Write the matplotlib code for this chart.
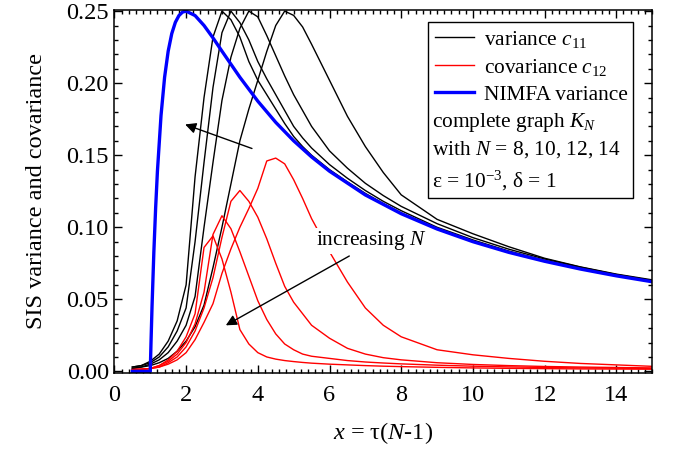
import numpy as np
import matplotlib
matplotlib.use('Agg')
import matplotlib.pyplot as plt
from matplotlib.lines import Line2D
from matplotlib.patches import Rectangle
from matplotlib.ticker import MultipleLocator, FormatStrFormatter

plt.rcParams['font.family'] = ['Liberation Serif', 'DejaVu Serif']
plt.rcParams['mathtext.fontset'] = 'custom'
plt.rcParams['mathtext.rm'] = 'Liberation Serif'
plt.rcParams['mathtext.it'] = 'Liberation Serif:italic'

# x = tau (N-1) grid shared by the SIS curves
x = [0.5, 0.75, 1.0, 1.25, 1.5, 1.75, 2.0, 2.25, 2.5, 2.75, 3.0, 3.25, 3.5, 3.75,
     4.0, 4.25, 4.5, 4.75, 5.0, 5.25, 5.5, 6.0, 6.5, 7.0, 7.5, 8.0, 9.0, 10.0,
     11.0, 12.0, 13.0, 14.0, 15.0]

N_values = [8, 10, 12, 14]

# variance c11 for N = 8, 10, 12, 14
c11_N8 = [0.002, 0.003, 0.004, 0.006, 0.009, 0.014, 0.021, 0.031, 0.046, 0.072, 0.100,
          0.130, 0.160, 0.182, 0.202, 0.222, 0.240, 0.250, 0.247, 0.239, 0.227, 0.202,
          0.177, 0.156, 0.138, 0.1225, 0.1055, 0.0955, 0.0865, 0.0785, 0.0725, 0.0675, 0.0635]
c11_N10 = [0.002, 0.003, 0.005, 0.008, 0.013, 0.021, 0.032, 0.052, 0.100, 0.145, 0.188,
           0.218, 0.238, 0.250, 0.246, 0.233, 0.219, 0.205, 0.192, 0.181, 0.170, 0.153,
           0.141, 0.1305, 0.122, 0.1145, 0.1025, 0.0928, 0.0848, 0.078, 0.0723, 0.0672, 0.063]
c11_N12 = [0.003, 0.004, 0.006, 0.010, 0.017, 0.028, 0.044, 0.090, 0.145, 0.197, 0.235,
           0.250, 0.242, 0.230, 0.215, 0.203, 0.192, 0.181, 0.170, 0.162, 0.155, 0.1435,
           0.134, 0.1255, 0.118, 0.1115, 0.100, 0.0912, 0.0835, 0.077, 0.0716, 0.0667, 0.0626]
c11_N14 = [0.003, 0.004, 0.007, 0.012, 0.021, 0.035, 0.060, 0.135, 0.190, 0.232, 0.250,
           0.244, 0.232, 0.215, 0.202, 0.192, 0.182, 0.172, 0.163, 0.156, 0.150, 0.140,
           0.1315, 0.1235, 0.1165, 0.110, 0.099, 0.0905, 0.083, 0.0767, 0.0713, 0.0665, 0.0624]

# covariance c12 for N = 8, 10, 12, 14
c12_N8 = [0.0012, 0.0014, 0.002, 0.003, 0.005, 0.008, 0.013, 0.022, 0.034, 0.047, 0.068,
          0.085, 0.100, 0.113, 0.127, 0.146, 0.148, 0.144, 0.133, 0.120, 0.106, 0.083,
          0.062, 0.044, 0.032, 0.024, 0.015, 0.0115, 0.009, 0.007, 0.0055, 0.0045, 0.0035]
c12_N10 = [0.0012, 0.0014, 0.002, 0.003, 0.006, 0.010, 0.017, 0.028, 0.044, 0.065, 0.093,
           0.118, 0.1255, 0.118, 0.107, 0.092, 0.075, 0.059, 0.048, 0.040, 0.032, 0.023,
           0.016, 0.012, 0.0095, 0.008, 0.006, 0.0048, 0.004, 0.0034, 0.003, 0.0027, 0.0024]
c12_N12 = [0.0012, 0.0015, 0.002, 0.004, 0.007, 0.012, 0.020, 0.033, 0.055, 0.095, 0.108,
           0.099, 0.083, 0.066, 0.049, 0.036, 0.026, 0.019, 0.015, 0.012, 0.0105, 0.009,
           0.0075, 0.0065, 0.0058, 0.0052, 0.0043, 0.0036, 0.0031, 0.0027, 0.0024, 0.0022, 0.002]
c12_N14 = [0.0012, 0.0015, 0.002, 0.004, 0.008, 0.014, 0.024, 0.040, 0.086, 0.094, 0.078,
           0.055, 0.029, 0.019, 0.013, 0.010, 0.0085, 0.0075, 0.0068, 0.0062, 0.0057, 0.005,
           0.0045, 0.004, 0.0036, 0.0033, 0.0028, 0.0024, 0.0021, 0.0019, 0.0017, 0.0016, 0.0015]

# NIMFA variance
x_nimfa = [0.5, 1.0, 1.02, 1.05, 1.1, 1.15, 1.2, 1.3, 1.4, 1.5, 1.6, 1.7, 1.8, 1.9, 2.0,
           2.25, 2.5, 2.75, 3.0, 3.5, 4.0, 4.5, 5.0, 5.5, 6.0, 7.0, 8.0, 9.0, 10.0,
           11.0, 12.0, 13.0, 14.0, 15.0]
var_nimfa = [0.0, 0.0, 0.0192, 0.0454, 0.0826, 0.1134, 0.1389, 0.1775, 0.2041, 0.2222,
             0.2344, 0.2422, 0.2469, 0.2493, 0.25, 0.2469, 0.24, 0.2314, 0.2222, 0.2041,
             0.1875, 0.1728, 0.16, 0.1488, 0.1389, 0.1224, 0.1094, 0.0988, 0.09, 0.0826,
             0.0764, 0.0710, 0.0663, 0.0622]

c11_all = [c11_N8, c11_N10, c11_N12, c11_N14]
c12_all = [c12_N8, c12_N10, c12_N12, c12_N14]

FS = 17.5   # axis text
LFS = 15.4  # legend / annotation text

fig = plt.figure(figsize=(6.73, 4.51), dpi=100)
ax = fig.add_axes([0.170, 0.174, 0.799, 0.803])

for c in c11_all:
	ax.plot(x, c, color='k', lw=1.0)
for c in c12_all:
	ax.plot(x, c, color='#ff0000', lw=1.0)
ax.plot(x_nimfa, var_nimfa, color='#0000ff', lw=2.4)

ax.set_xlim(0, 15)
ax.set_ylim(-0.0008, 0.2505)
ax.xaxis.set_major_locator(MultipleLocator(2))
ax.xaxis.set_minor_locator(MultipleLocator(0.2))
ax.yaxis.set_major_locator(MultipleLocator(0.05))
ax.yaxis.set_minor_locator(MultipleLocator(0.01))
ax.yaxis.set_major_formatter(FormatStrFormatter('%.2f'))
ax.tick_params(which='both', direction='in', top=True, right=True, labelsize=FS, width=1.0)
ax.tick_params(which='major', length=6)
ax.tick_params(which='minor', length=3)
ax.tick_params(axis='x', pad=9)
ax.tick_params(axis='y', pad=4)
for s in ax.spines.values():
	s.set_linewidth(1.1)

ax.set_xlabel('$x$ = τ($N$-1)', fontsize=FS, labelpad=10)
ax.set_ylabel('SIS variance and covariance', fontsize=FS, labelpad=14)

# arrows showing direction of increasing N
ax.annotate('', xy=(1.90, 0.172), xytext=(3.91, 0.154),
            arrowprops=dict(arrowstyle='-|>', color='k', lw=1.0, mutation_scale=16))
ax.annotate('', xy=(3.04, 0.031), xytext=(6.62, 0.081),
            arrowprops=dict(arrowstyle='-|>', color='k', lw=1.0, mutation_scale=16))
ax.text(7.15, 0.0905, 'increasing $N$', fontsize=LFS, ha='center', va='center',
        bbox=dict(facecolor='white', edgecolor='none', pad=1.0), zorder=5)

# legend box
handles = [Line2D([], [], color='k', lw=1.0),
           Line2D([], [], color='#ff0000', lw=1.0),
           Line2D([], [], color='#0000ff', lw=2.4)]
labels = ['variance $c_{11}$', 'covariance $c_{12}$', 'NIMFA variance']
leg = ax.legend(handles, labels, loc='upper left', bbox_to_anchor=(0.596, 0.949),
                frameon=False, fontsize=LFS, handlelength=1.85, handletextpad=0.45,
                labelspacing=0.32, borderaxespad=0, borderpad=0)
ax.add_patch(Rectangle((0.583, 0.481), 0.382, 0.486, transform=ax.transAxes,
                       facecolor='white', edgecolor='k', lw=1.0, zorder=4))
leg.set_zorder(6)
extra = ['complete graph $K_N$', 'with $N$ = 8, 10, 12, 14', 'ε = 10$^{\\mathregular{-3}}$, δ = 1']
extra_y = [0.690, 0.617, 0.530]
for t, yy in zip(extra, extra_y):
	ax.text(0.590, yy, t, transform=ax.transAxes, fontsize=LFS,
	        ha='left', va='center', zorder=6)

fig.savefig('out.png', dpi=100)
